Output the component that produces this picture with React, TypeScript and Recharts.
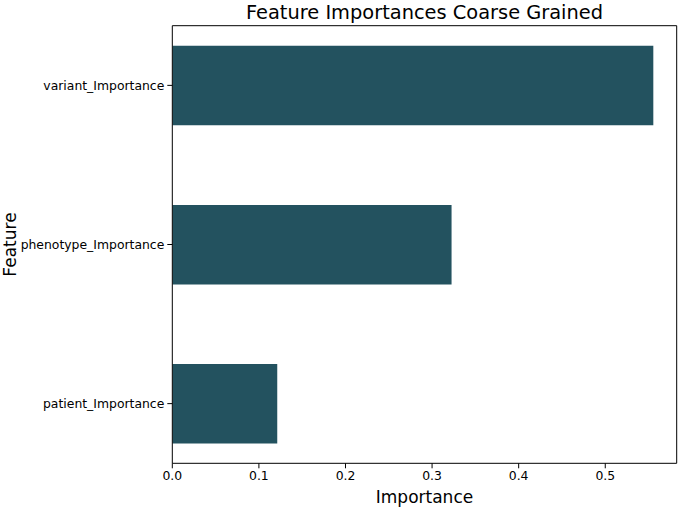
import { BarChart, Bar, XAxis, YAxis } from 'recharts';

const features = ['variant_Importance', 'phenotype_Importance', 'patient_Importance'];
const importances = [0.5555, 0.3225, 0.1212];
const xTicks = [0, 0.1, 0.2, 0.3, 0.4, 0.5];

const data = features.map((feature, i) => ({ feature, importance: importances[i] }));

const font = '"DejaVu Sans", sans-serif';

function FeatureLabel(props: any) {
  const vb = props.viewBox || {};
  const cx = 10;
  const cy = vb.y + vb.height / 2;
  return (
    <text x={cx} y={cy} transform={`rotate(-90 ${cx} ${cy})`} textAnchor="middle" dominantBaseline="central"
      fontSize={17} fontFamily={font} fill="#000">
      Feature
    </text>
  );
}

export default function App() {
  return (
    <div style={{ position: 'absolute', left: 0, top: 0, width: 685, height: 510, background: '#fff' }}>
      <div style={{ position: 'absolute', left: 172, width: 505, top: 0, textAlign: 'center', fontFamily: font, fontSize: 19.4, lineHeight: '25px', color: '#000' }}>
        Feature Importances Coarse Grained
      </div>
      <BarChart width={685} height={510} data={data} layout="vertical"
        margin={{ top: 24.7, right: 7.3, bottom: 0, left: 0 }}>
        <XAxis type="number" dataKey="importance" domain={[0, 0.5825]} ticks={xTicks} allowDataOverflow
          tickFormatter={(v: number) => v.toFixed(1)} height={46.7} tickSize={5} tickMargin={3}
          tick={{ fill: '#000', fontSize: 12.4, fontFamily: font }} stroke="#000"
          label={{ value: 'Importance', position: 'insideBottom', offset: 7, fontSize: 17, fontFamily: font, fill: '#000' }} />
        <XAxis xAxisId="top" orientation="top" type="number" domain={[0, 0.5825]} height={1} tick={false} tickLine={false} stroke="#000" />
        <YAxis type="category" dataKey="feature" width={172.3} tickSize={5} tickMargin={3}
          padding={{ top: -19.9, bottom: -19.9 }} stroke="#000"
          tick={{ fill: '#000', fontSize: 12.4, fontFamily: font }}
          label={<FeatureLabel />} />
        <YAxis yAxisId="right" orientation="right" type="category" dataKey="feature" width={1} tick={false} tickLine={false} stroke="#000" />
        <Bar dataKey="importance" fill="#23525f" barSize={79.5} isAnimationActive={false} />
      </BarChart>
    </div>
  );
}
